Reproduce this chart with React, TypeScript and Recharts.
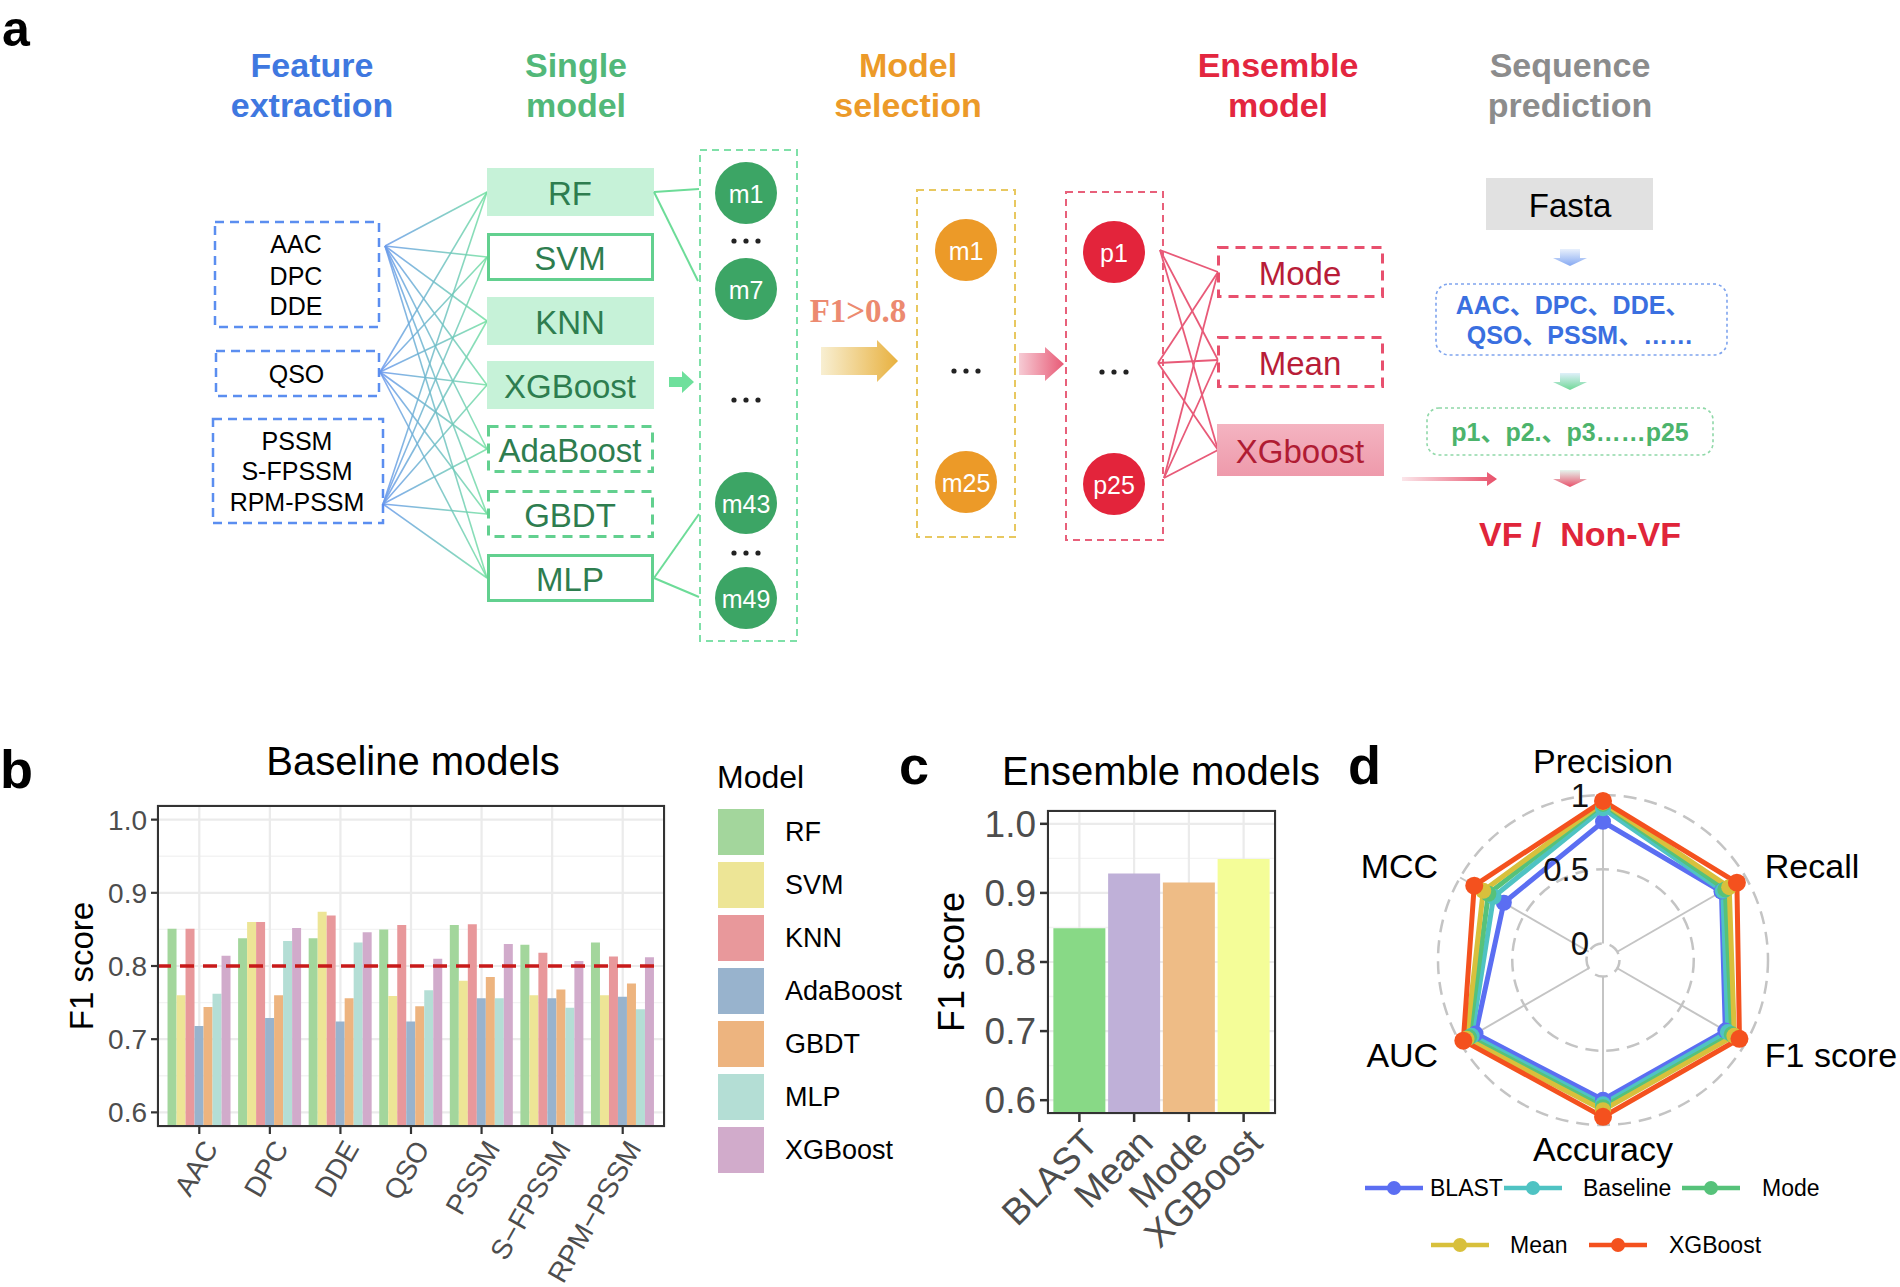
import React from 'react';
import {
  BarChart, Bar, XAxis, YAxis, CartesianGrid, ReferenceLine, Cell,
  RadarChart, Radar, PolarGrid, PolarAngleAxis, PolarRadiusAxis,
} from 'recharts';

const SANS = '"Liberation Sans", Arial, Helvetica, "Noto Sans CJK SC", sans-serif';
const SERIF = '"Liberation Serif", "Times New Roman", serif';

// ---- panel b: baseline models (F1 per feature set) ----
const featureNames = ['AAC', 'DPC', 'DDE', 'QSO', 'PSSM', 'S-FPSSM', 'RPM-PSSM'];
const baselineModels = ['RF', 'SVM', 'KNN', 'AdaBoost', 'GBDT', 'MLP', 'XGBoost'];
const baselineColors = ['#a3d69c', '#ede596', '#e8989b', '#98b3cd', '#edb47f', '#b4ded5', '#d1abcb'];
const rfF1 = [0.851, 0.838, 0.838, 0.850, 0.856, 0.829, 0.832];
const svmF1 = [0.760, 0.860, 0.874, 0.759, 0.780, 0.760, 0.760];
const knnF1 = [0.851, 0.860, 0.869, 0.856, 0.857, 0.818, 0.813];
const adaF1 = [0.718, 0.729, 0.724, 0.724, 0.756, 0.756, 0.758];
const gbdtF1 = [0.744, 0.760, 0.756, 0.745, 0.785, 0.768, 0.776];
const mlpF1 = [0.762, 0.834, 0.832, 0.767, 0.756, 0.743, 0.741];
const xgbF1 = [0.814, 0.852, 0.846, 0.810, 0.830, 0.807, 0.812];
const baselineScores = [rfF1, svmF1, knnF1, adaF1, gbdtF1, mlpF1, xgbF1];
const f1Ticks = [0.6, 0.7, 0.8, 0.9, 1.0];
const f1MinorTicks = [0.65, 0.75, 0.85, 0.95];
const f1Threshold = 0.8;

const baselineData = featureNames.map((feature, i) => {
  const row: Record<string, string | number> = { feature };
  baselineModels.forEach((m, j) => { row[m] = baselineScores[j][i]; });
  return row;
});

// ---- panel c: ensemble models ----
const ensembleNames = ['BLAST', 'Mean', 'Mode', 'XGBoost'];
const ensembleF1 = [0.849, 0.928, 0.915, 0.949];
const ensembleColors = ['#88d986', '#bfb0d8', '#eebc86', '#f4fd98'];
const ensembleData = ensembleNames.map((name, i) => ({ name, f1: ensembleF1[i] }));

// ---- panel d: radar ----
const metricNames = ['Precision', 'Recall', 'F1 score', 'Accuracy', 'AUC', 'MCC'];
const radarSeries = ['BLAST', 'Baseline', 'Mode', 'Mean', 'XGBoost'];
const radarColors = ['#5b6ef2', '#4fc3c3', '#56c27a', '#d8c03c', '#f4511e'];
const blastMetrics = [0.82, 0.81, 0.84, 0.83, 0.88, 0.66];
const baselineMetrics = [0.91, 0.82, 0.86, 0.86, 0.91, 0.74];
const modeMetrics = [0.94, 0.84, 0.89, 0.88, 0.93, 0.78];
const meanMetrics = [0.95, 0.87, 0.91, 0.90, 0.95, 0.82];
const xgbMetrics = [0.96, 0.93, 0.95, 0.945, 0.975, 0.89];
const radarValues = [blastMetrics, baselineMetrics, modeMetrics, meanMetrics, xgbMetrics];
const radarTicks = [0, 0.5, 1];

const radarData = metricNames.map((metric, i) => {
  const row: Record<string, string | number> = { metric };
  radarSeries.forEach((s, j) => { row[s] = radarValues[j][i]; });
  return row;
});

const AngledTick = (props: any) => {
  const { x, y, payload, angle, fontSize } = props;
  return (
    <g transform={`translate(${x + 2},${y + 2}) rotate(${angle})`}>
      <text textAnchor="end" dy="0.72em" fill="#4d4d4d" fontSize={fontSize} fontFamily={SANS}>
        {String(payload.value).replace('-', '\u2212')}
      </text>
    </g>
  );
};

const AngleTick = (props: any) => {
  const { x, y, payload } = props;
  const a = (payload.coordinate * Math.PI) / 180;
  const c = Math.cos(a);
  const s = Math.sin(a);
  let anchor = 'middle';
  let dx = 0;
  let dy = 0;
  if (Math.abs(c) < 0.1) {
    dy = s > 0 ? -26 : 16;
  } else {
    anchor = c > 0 ? 'start' : 'end';
    dx = c > 0 ? 12 : -15;
    dy = s > 0 ? -8 : 8;
  }
  return (
    <text x={x + dx} y={y + dy} textAnchor={anchor} dominantBaseline="central" fontSize={34} fontFamily={SANS} fill="#000">
      {payload.value}
    </text>
  );
};

const RadiusTick = (props: any) => {
  const { x, y, payload } = props;
  return (
    <text x={x - 14} y={y} textAnchor="end" dominantBaseline="central" fontSize={33} fontFamily={SANS} fill="#111">
      {payload.value}
    </text>
  );
};

const BaselineChart = () => (
  <BarChart width={700} height={547} data={baselineData}
    margin={{ top: 65, right: 35, bottom: 10, left: 77 }} barCategoryGap="5%" barGap={0}>
    <CartesianGrid vertical={false} horizontalValues={f1MinorTicks} stroke="#f3f3f3" strokeWidth={1.4} />
    <CartesianGrid stroke="#ebebeb" strokeWidth={2.2} />
    <XAxis dataKey="feature" interval={0} padding={{ left: 7, right: 7 }} height={150} axisLine={false}
      tickLine={{ stroke: '#333', strokeWidth: 2.2 }} tickSize={7}
      tick={<AngledTick angle={-60} fontSize={28} />} />
    <YAxis type="number" domain={[0.58, 1.02]} allowDataOverflow ticks={f1Ticks} width={80} axisLine={false}
      tickLine={{ stroke: '#333', strokeWidth: 2.2 }} tickSize={6} tickMargin={4}
      tickFormatter={(v: number) => v.toFixed(1)} tick={{ fill: '#4d4d4d', fontSize: 28, fontFamily: SANS }} />
    {baselineModels.map((m, j) => (
      <Bar key={m} dataKey={m} fill={baselineColors[j]} isAnimationActive={false} />
    ))}
    <ReferenceLine y={f1Threshold} stroke="#c81a1a" strokeWidth={3.5} strokeDasharray="14 9" />
  </BarChart>
);

const EnsembleChart = () => (
  <BarChart width={420} height={547} data={ensembleData}
    margin={{ top: 70, right: 34, bottom: 13, left: 67 }} barCategoryGap="2.5%">
    <CartesianGrid vertical={false} horizontalValues={f1MinorTicks} stroke="#f3f3f3" strokeWidth={1.4} />
    <CartesianGrid stroke="#ebebeb" strokeWidth={2.2} />
    <XAxis dataKey="name" interval={0} padding={{ left: 5, right: 5 }} height={160} axisLine={false}
      tickLine={{ stroke: '#333', strokeWidth: 2.5 }} tickSize={8}
      tick={<AngledTick angle={-45} fontSize={37} />} />
    <YAxis type="number" domain={[0.58, 1.02]} allowDataOverflow ticks={f1Ticks} width={90} axisLine={false}
      tickLine={{ stroke: '#333', strokeWidth: 2.5 }} tickSize={7} tickMargin={4}
      tickFormatter={(v: number) => v.toFixed(1)} tick={{ fill: '#4d4d4d', fontSize: 37, fontFamily: SANS }} />
    <Bar dataKey="f1" isAnimationActive={false}>
      {ensembleData.map((d, i) => <Cell key={d.name} fill={ensembleColors[i]} />)}
    </Bar>
  </BarChart>
);

const MetricsRadar = () => (
  <RadarChart width={580} height={547} data={radarData} cx={283} cy={220}
    outerRadius={165} innerRadius={16.5} startAngle={90} endAngle={-270}>
    <PolarGrid gridType="circle" radialLines={false} stroke="#c4c4c4" strokeWidth={2.5} strokeDasharray="13 8" />
    <PolarGrid gridType="circle" polarRadius={[]} stroke="#c4c4c4" strokeWidth={2} />
    <PolarAngleAxis dataKey="metric" tick={<AngleTick />} tickLine={false} axisLine={false} />
    <PolarRadiusAxis angle={90} type="number" domain={[0, 1]} ticks={radarTicks as any} tickCount={3}
      axisLine={false} tickLine={false} tick={<RadiusTick />} />
    {radarSeries.map((s, j) => (
      <Radar key={s} dataKey={s} stroke={radarColors[j]} strokeWidth={5} fill="none" fillOpacity={0}
        dot={(p: any) => (
          <circle key={`${s}-${p.index}`} cx={p.cx} cy={p.cy} r={s === 'XGBoost' ? 9 : 8} fill={radarColors[j]} />
        )}
        isAnimationActive={false} />
    ))}
  </RadarChart>
);

// ---- panel a: workflow diagram ----
const Dots = ({ x, y }: { x: number; y: number }) => (
  <g fill="#222">
    <circle cx={x - 12} cy={y} r={2.6} />
    <circle cx={x} cy={y} r={2.6} />
    <circle cx={x + 12} cy={y} r={2.6} />
  </g>
);

const DownArrow = ({ x, y, id }: { x: number; y: number; id: string }) => (
  <path d={`M ${x - 10} ${y} H ${x + 10} V ${y + 9} H ${x + 17} L ${x} ${y + 17} L ${x - 17} ${y + 9} H ${x - 10} Z`} fill={`url(#${id})`} />
);

const Diagram = () => {
  const headers = [
    { x: 312, c: '#3f78e0', l: ['Feature', 'extraction'] },
    { x: 576, c: '#52b879', l: ['Single', 'model'] },
    { x: 908, c: '#ec9a29', l: ['Model', 'selection'] },
    { x: 1278, c: '#e3263f', l: ['Ensemble', 'model'] },
    { x: 1570, c: '#8c8c8c', l: ['Sequence', 'prediction'] },
  ];
  const featureBoxes = [
    { x: 215, y: 222, w: 164, h: 105, lines: ['AAC', 'DPC', 'DDE'], ys: [244, 276, 306], src: [385, 246] },
    { x: 216, y: 351, w: 163, h: 45, lines: ['QSO'], ys: [374], src: [380, 372] },
    { x: 213, y: 419, w: 170, h: 104, lines: ['PSSM', 'S-FPSSM', 'RPM-PSSM'], ys: [441, 471, 502], src: [383, 504] },
  ];
  const modelBoxes = [
    { name: 'RF', y: 168, kind: 'fill' },
    { name: 'SVM', y: 233, kind: 'solid' },
    { name: 'KNN', y: 297, kind: 'fill' },
    { name: 'XGBoost', y: 361, kind: 'fill' },
    { name: 'AdaBoost', y: 425, kind: 'dash' },
    { name: 'GBDT', y: 490, kind: 'dash' },
    { name: 'MLP', y: 554, kind: 'solid' },
  ];
  const pSources = [[1160, 250], [1158, 363], [1164, 478]];
  const ensTargets = [[1218, 272], [1218, 360], [1218, 450]];
  return (
    <svg width={1900} height={700} style={{ position: 'absolute', left: 0, top: 0 }} fontFamily={SANS}>
      <defs>
        <linearGradient id="featGrad" gradientUnits="userSpaceOnUse" x1={380} y1={0} x2={487} y2={0}>
          <stop offset="0" stopColor="#6b98ee" />
          <stop offset="1" stopColor="#74e0a2" />
        </linearGradient>
        <linearGradient id="goldArrow" x1="0" y1="0" x2="1" y2="0">
          <stop offset="0" stopColor="#f8efd2" />
          <stop offset="1" stopColor="#e8b13f" />
        </linearGradient>
        <linearGradient id="pinkArrow" x1="0" y1="0" x2="1" y2="0">
          <stop offset="0" stopColor="#f6cbd4" />
          <stop offset="1" stopColor="#e85a76" />
        </linearGradient>
        <linearGradient id="redLine" x1="0" y1="0" x2="1" y2="0">
          <stop offset="0" stopColor="#fbe6ea" />
          <stop offset="1" stopColor="#e8506a" />
        </linearGradient>
        <linearGradient id="xgbFill" x1="0" y1="0" x2="0" y2="1">
          <stop offset="0" stopColor="#f4b4c1" />
          <stop offset="1" stopColor="#ee9aab" />
        </linearGradient>
        <linearGradient id="downBlue" x1="0" y1="0" x2="0" y2="1">
          <stop offset="0" stopColor="#e8f0fc" />
          <stop offset="1" stopColor="#86a9f2" />
        </linearGradient>
        <linearGradient id="downGreen" x1="0" y1="0" x2="0" y2="1">
          <stop offset="0" stopColor="#dff0fa" />
          <stop offset="1" stopColor="#6fd896" />
        </linearGradient>
        <linearGradient id="downRed" x1="0" y1="0" x2="0" y2="1">
          <stop offset="0" stopColor="#e6f5ee" />
          <stop offset="1" stopColor="#e8506a" />
        </linearGradient>
      </defs>

      <text x={2} y={46} fontSize={50} fontWeight="bold" fill="#000">a</text>

      {headers.map((h) => (
        <text key={h.l[0]} x={h.x} textAnchor="middle" fontSize={34} fontWeight="bold" fill={h.c}>
          <tspan x={h.x} y={77}>{h.l[0]}</tspan>
          <tspan x={h.x} y={117}>{h.l[1]}</tspan>
        </text>
      ))}

      {/* feature -> model links */}
      {featureBoxes.map((b) => modelBoxes.map((m) => (
        <line key={b.lines[0] + m.name} x1={b.src[0]} y1={b.src[1]} x2={487} y2={m.y + 24}
          stroke="url(#featGrad)" strokeWidth={1.6} strokeOpacity={0.85} />
      )))}

      {featureBoxes.map((b) => (
        <g key={b.lines[0]}>
          <rect x={b.x} y={b.y} width={b.w} height={b.h} fill="none" stroke="#5b8ef0" strokeWidth={2.5} strokeDasharray="9 6" />
          {b.lines.map((t, i) => (
            <text key={t} x={b.x + b.w / 2 - 1} y={b.ys[i]} textAnchor="middle" dominantBaseline="central" fontSize={25} fill="#000">{t}</text>
          ))}
        </g>
      ))}

      {modelBoxes.map((m) => (
        <g key={m.name}>
          <rect x={m.kind === 'fill' ? 487 : 488.5} y={m.kind === 'fill' ? m.y : m.y + 1.5}
            width={m.kind === 'fill' ? 167 : 164} height={m.kind === 'fill' ? 48 : 45}
            fill={m.kind === 'fill' ? '#c6f2d8' : '#fff'}
            stroke={m.kind === 'fill' ? 'none' : '#62d08f'} strokeWidth={3}
            strokeDasharray={m.kind === 'dash' ? '10 7' : undefined} />
          <text x={570} y={m.y + 25} textAnchor="middle" dominantBaseline="central" fontSize={33} fill="#2e7d4f">{m.name}</text>
        </g>
      ))}

      {/* green arrow to m-column */}
      <path d="M 669 377 H 682 V 371 L 694 382 L 682 393 V 387 H 669 Z" fill="#6ee09c" />

      {/* model -> m links */}
      <g stroke="#6ddc98" strokeWidth={2}>
        <line x1={654} y1={192} x2={699} y2={189} />
        <line x1={654} y1={192} x2={698} y2={281} />
        <line x1={654} y1={578} x2={699} y2={514} />
        <line x1={654} y1={578} x2={699} y2={597} />
      </g>

      <rect x={700} y={150} width={97} height={491} fill="none" stroke="#7fe0a8" strokeWidth={2} strokeDasharray="7 5" />
      {[['m1', 193], ['m7', 289], ['m43', 503], ['m49', 598]].map(([t, y]) => (
        <g key={t as string}>
          <circle cx={746} cy={y as number} r={31} fill="#3ca565" />
          <text x={746} y={(y as number) + 1} textAnchor="middle" dominantBaseline="central" fontSize={25} fill="#fff">{t}</text>
        </g>
      ))}
      <Dots x={746} y={241} />
      <Dots x={746} y={400} />
      <Dots x={746} y={553} />

      <text x={858} y={311} textAnchor="middle" dominantBaseline="central" fontSize={33} fontWeight="bold" fontFamily={SERIF} fill="#ec8a70">F1&gt;0.8</text>
      <path d="M 821 347 H 877 V 340 L 898 361 L 877 382 V 375 H 821 Z" fill="url(#goldArrow)" />

      <rect x={917} y={190} width={98} height={347} fill="none" stroke="#e8c860" strokeWidth={2} strokeDasharray="7 5" />
      {[['m1', 250], ['m25', 482]].map(([t, y]) => (
        <g key={t as string}>
          <circle cx={966} cy={y as number} r={31} fill="#ec9a28" />
          <text x={966} y={(y as number) + 1} textAnchor="middle" dominantBaseline="central" fontSize={25} fill="#fff">{t}</text>
        </g>
      ))}
      <Dots x={966} y={371} />

      <path d="M 1019 353 H 1045 V 347 L 1064 364 L 1045 381 V 375 H 1019 Z" fill="url(#pinkArrow)" />

      <rect x={1066} y={192} width={97} height={348} fill="none" stroke="#e8607a" strokeWidth={2} strokeDasharray="7 5" />
      {[['p1', 252], ['p25', 484]].map(([t, y]) => (
        <g key={t as string}>
          <circle cx={1114} cy={y as number} r={31} fill="#e3243b" />
          <text x={1114} y={(y as number) + 1} textAnchor="middle" dominantBaseline="central" fontSize={25} fill="#fff">{t}</text>
        </g>
      ))}
      <Dots x={1114} y={372} />

      <g stroke="#e85a78" strokeWidth={1.8}>
        {pSources.map((s) => ensTargets.map((t) => (
          <line key={`${s[1]}-${t[1]}`} x1={s[0]} y1={s[1]} x2={t[0]} y2={t[1]} />
        )))}
      </g>

      <rect x={1218.5} y={247.5} width={164} height={49} fill="#fff" stroke="#e8506e" strokeWidth={3} strokeDasharray="10 7" />
      <rect x={1218.5} y={337.5} width={164} height={49} fill="#fff" stroke="#e8506e" strokeWidth={3} strokeDasharray="10 7" />
      <rect x={1217} y={424} width={167} height={52} fill="url(#xgbFill)" />
      <text x={1300} y={273} textAnchor="middle" dominantBaseline="central" fontSize={33} fill="#b81d38">Mode</text>
      <text x={1300} y={363} textAnchor="middle" dominantBaseline="central" fontSize={33} fill="#b81d38">Mean</text>
      <text x={1300} y={451} textAnchor="middle" dominantBaseline="central" fontSize={33} fill="#b01c33">XGboost</text>

      <path d="M 1402 477 H 1487 V 472 L 1497 479 L 1487 486 V 481 H 1402 Z" fill="url(#redLine)" />

      {/* sequence prediction */}
      <rect x={1486} y={178} width={167} height={52} fill="#e1e1e1" />
      <text x={1570} y={205} textAnchor="middle" dominantBaseline="central" fontSize={33} fill="#000">Fasta</text>
      <DownArrow x={1570} y={249} id="downBlue" />
      <rect x={1436} y={284} width={291} height={71} rx={13} fill="none" stroke="#7fa4ee" strokeWidth={1.6} strokeDasharray="3 3" />
      <text x={1573} y={305} textAnchor="middle" dominantBaseline="central" fontSize={25} fontWeight="bold" fill="#3a6fe0">AAC、DPC、DDE、</text>
      <text x={1580} y={335} textAnchor="middle" dominantBaseline="central" fontSize={25} fontWeight="bold" fill="#3a6fe0">QSO、PSSM、……</text>
      <DownArrow x={1570} y={373} id="downGreen" />
      <rect x={1427} y={408} width={286} height={47} rx={12} fill="none" stroke="#8fd8a8" strokeWidth={1.6} strokeDasharray="3 3" />
      <text x={1570} y={432} textAnchor="middle" dominantBaseline="central" fontSize={25} fontWeight="bold" fill="#4cb46c">p1、p2.、p3……p25</text>
      <DownArrow x={1570} y={470} id="downRed" />
      <text x={1580} y={534} textAnchor="middle" dominantBaseline="central" fontSize={34} fontWeight="bold" fill="#e0253a" style={{ whiteSpace: 'pre' }}>VF /  Non-VF</text>
    </svg>
  );
};

const Overlay = () => (
  <svg width={1900} height={1287} style={{ position: 'absolute', left: 0, top: 0, pointerEvents: 'none' }} fontFamily={SANS}>
    <text x={0} y={788} fontSize={54} fontWeight="bold" fill="#000">b</text>
    <text x={899} y={784} fontSize={54} fontWeight="bold" fill="#000">c</text>
    <text x={1348} y={784} fontSize={54} fontWeight="bold" fill="#000">d</text>

    <text x={413} y={775} textAnchor="middle" fontSize={40} fill="#000">Baseline models</text>
    <text x={1161} y={785} textAnchor="middle" fontSize={40} fill="#000">Ensemble models</text>

    <text transform="translate(81,966) rotate(-90)" textAnchor="middle" dominantBaseline="central" fontSize={33} fill="#000">F1 score</text>
    <text transform="translate(951,962) rotate(-90)" textAnchor="middle" dominantBaseline="central" fontSize={36} fill="#000">F1 score</text>

    {/* panel b legend */}
    <text x={717} y={788} fontSize={32} fill="#000">Model</text>
    {baselineModels.map((m, j) => (
      <g key={m}>
        <rect x={718} y={809 + j * 53} width={46} height={46} fill={baselineColors[j]} />
        <text x={785} y={832 + j * 53} dominantBaseline="central" fontSize={27} fill="#000">{m}</text>
      </g>
    ))}

    {/* panel d legend */}
    {[
      { i: 0, lx: 1365, tx: 1430, y: 1188 },
      { i: 1, lx: 1504, tx: 1583, y: 1188 },
      { i: 2, lx: 1682, tx: 1762, y: 1188 },
      { i: 3, lx: 1431, tx: 1510, y: 1245 },
      { i: 4, lx: 1589, tx: 1669, y: 1245 },
    ].map((e) => (
      <g key={radarSeries[e.i]}>
        <line x1={e.lx} y1={e.y} x2={e.lx + 58} y2={e.y} stroke={radarColors[e.i]} strokeWidth={4.5} />
        <circle cx={e.lx + 29} cy={e.y} r={7} fill={radarColors[e.i]} />
        <text x={e.tx} y={e.y} dominantBaseline="central" fontSize={23} fill="#000">{radarSeries[e.i]}</text>
      </g>
    ))}
  </svg>
);

export default function App() {
  return (
    <div style={{ position: 'absolute', left: 0, top: 0, width: 1900, height: 1287, background: '#fff', overflow: 'hidden', fontFamily: SANS }}>
      <Diagram />
      <div style={{ position: 'absolute', left: 0, top: 740 }}><BaselineChart /></div>
      <div style={{ position: 'absolute', left: 157, top: 805, width: 508, height: 322, border: '2.2px solid #333', boxSizing: 'border-box', pointerEvents: 'none' }} />
      <div style={{ position: 'absolute', left: 890, top: 740 }}><EnsembleChart /></div>
      <div style={{ position: 'absolute', left: 1047, top: 810, width: 229, height: 304, border: '2.2px solid #333', boxSizing: 'border-box', pointerEvents: 'none' }} />
      <div style={{ position: 'absolute', left: 1320, top: 740 }}><MetricsRadar /></div>
      <Overlay />
    </div>
  );
}
